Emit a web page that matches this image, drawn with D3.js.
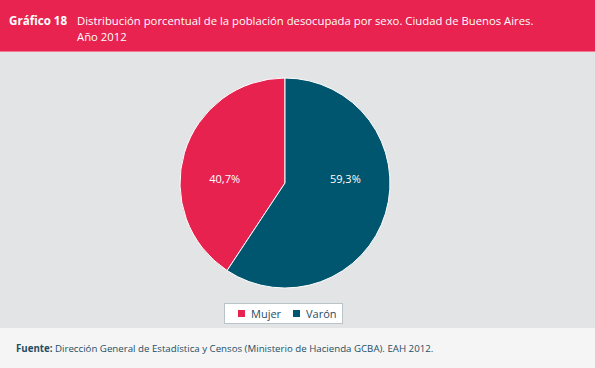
<!DOCTYPE html>
<html>
<head>
<meta charset="utf-8">
<script src="https://cdn.jsdelivr.net/npm/d3@7"></script>
<style>
  body { margin: 0; background: #fff; }
  svg { display: block; }
</style>
</head>
<body>
<div id="chart"></div>
<script>
// Data
const categories = ["Mujer", "Varón"];
const values = [40.7, 59.3];
const colors = ["#E8224F", "#00566E"];
const titleNum = "Gráfico 18";
const titleLines = ["Distribución porcentual de la población desocupada por sexo. Ciudad de Buenos Aires.", "Año 2012"];
const sourceLabel = "Fuente:";
const sourceText = "Dirección General de Estadística y Censos (Ministerio de Hacienda GCBA). EAH 2012.";

const width = 595, height = 368;
const font = "'Open Sans', 'DejaVu Sans', sans-serif";

const svg = d3.select("#chart").append("svg")
    .attr("width", width)
    .attr("height", height);

// background panels
svg.append("rect").attr("x", 0).attr("y", 0).attr("width", width).attr("height", height).attr("fill", "#F5F5F5");
svg.append("rect").attr("x", 0).attr("y", 51).attr("width", width).attr("height", 277).attr("fill", "#E3E4E5");
svg.append("rect").attr("x", 0).attr("y", 0).attr("width", width).attr("height", 51).attr("fill", "#E8234F");
svg.append("rect").attr("x", 0).attr("y", 51).attr("width", width).attr("height", 1).attr("fill", "#F07A92");

// title
svg.append("text")
    .attr("x", 9).attr("y", 25)
    .attr("font-family", font).attr("font-size", 11.6).attr("font-weight", "bold")
    .attr("fill", "#fff")
    .text(titleNum);
titleLines.forEach((t, i) => {
    svg.append("text")
        .attr("x", 77).attr("y", 25 + i * 16)
        .attr("font-family", font).attr("font-size", 11.3)
        .attr("fill", "#fff")
        .text(t);
});

// pie
const cx = 285, cy = 183, radius = 105;
const g = svg.append("g").attr("transform", `translate(${cx},${cy})`);

const startAngle = -values[0] / d3.sum(values) * 2 * Math.PI;
const pie = d3.pie().sort(null)
    .startAngle(startAngle)
    .endAngle(startAngle + 2 * Math.PI);
const arcs = pie(values);

const arc = d3.arc().innerRadius(0).outerRadius(radius);
const labelArc = d3.arc().innerRadius(radius * 0.6).outerRadius(radius * 0.6);

g.selectAll("path.slice")
    .data(arcs)
    .join("path")
    .attr("class", "slice")
    .attr("d", arc)
    .attr("fill", (d, i) => colors[i])
    .attr("stroke", "#fff")
    .attr("stroke-width", 1);

g.selectAll("text.lbl")
    .data(arcs)
    .join("text")
    .attr("class", "lbl")
    .attr("x", d => labelArc.centroid(d)[0])
    .attr("y", -3)
    .attr("text-anchor", "middle")
    .attr("dominant-baseline", "middle")
    .attr("font-family", font).attr("font-size", 11)
    .attr("fill", "#fff")
    .text(d => d3.format(".1f")(d.data).replace(".", ",") + "%");

// legend
const legend = svg.append("g");
legend.append("rect")
    .attr("x", 224.5).attr("y", 303.5).attr("width", 118).attr("height", 20)
    .attr("fill", "#fff").attr("stroke", "#B9C4C9");
const legX = [238, 293];
categories.forEach((c, i) => {
    legend.append("rect")
        .attr("x", legX[i]).attr("y", 310).attr("width", 7).attr("height", 7)
        .attr("fill", colors[i]);
    legend.append("text")
        .attr("x", legX[i] + 13).attr("y", 317.5)
        .attr("font-family", font).attr("font-size", 11)
        .attr("fill", "#1F4E63")
        .text(c);
});

// source
const src = svg.append("text")
    .attr("x", 16).attr("y", 352)
    .attr("font-family", font).attr("font-size", 9.7)
    .attr("fill", "#1F4E63");
src.append("tspan").attr("font-weight", "bold").text(sourceLabel);
src.append("tspan").text(" " + sourceText);
</script>
</body>
</html>
